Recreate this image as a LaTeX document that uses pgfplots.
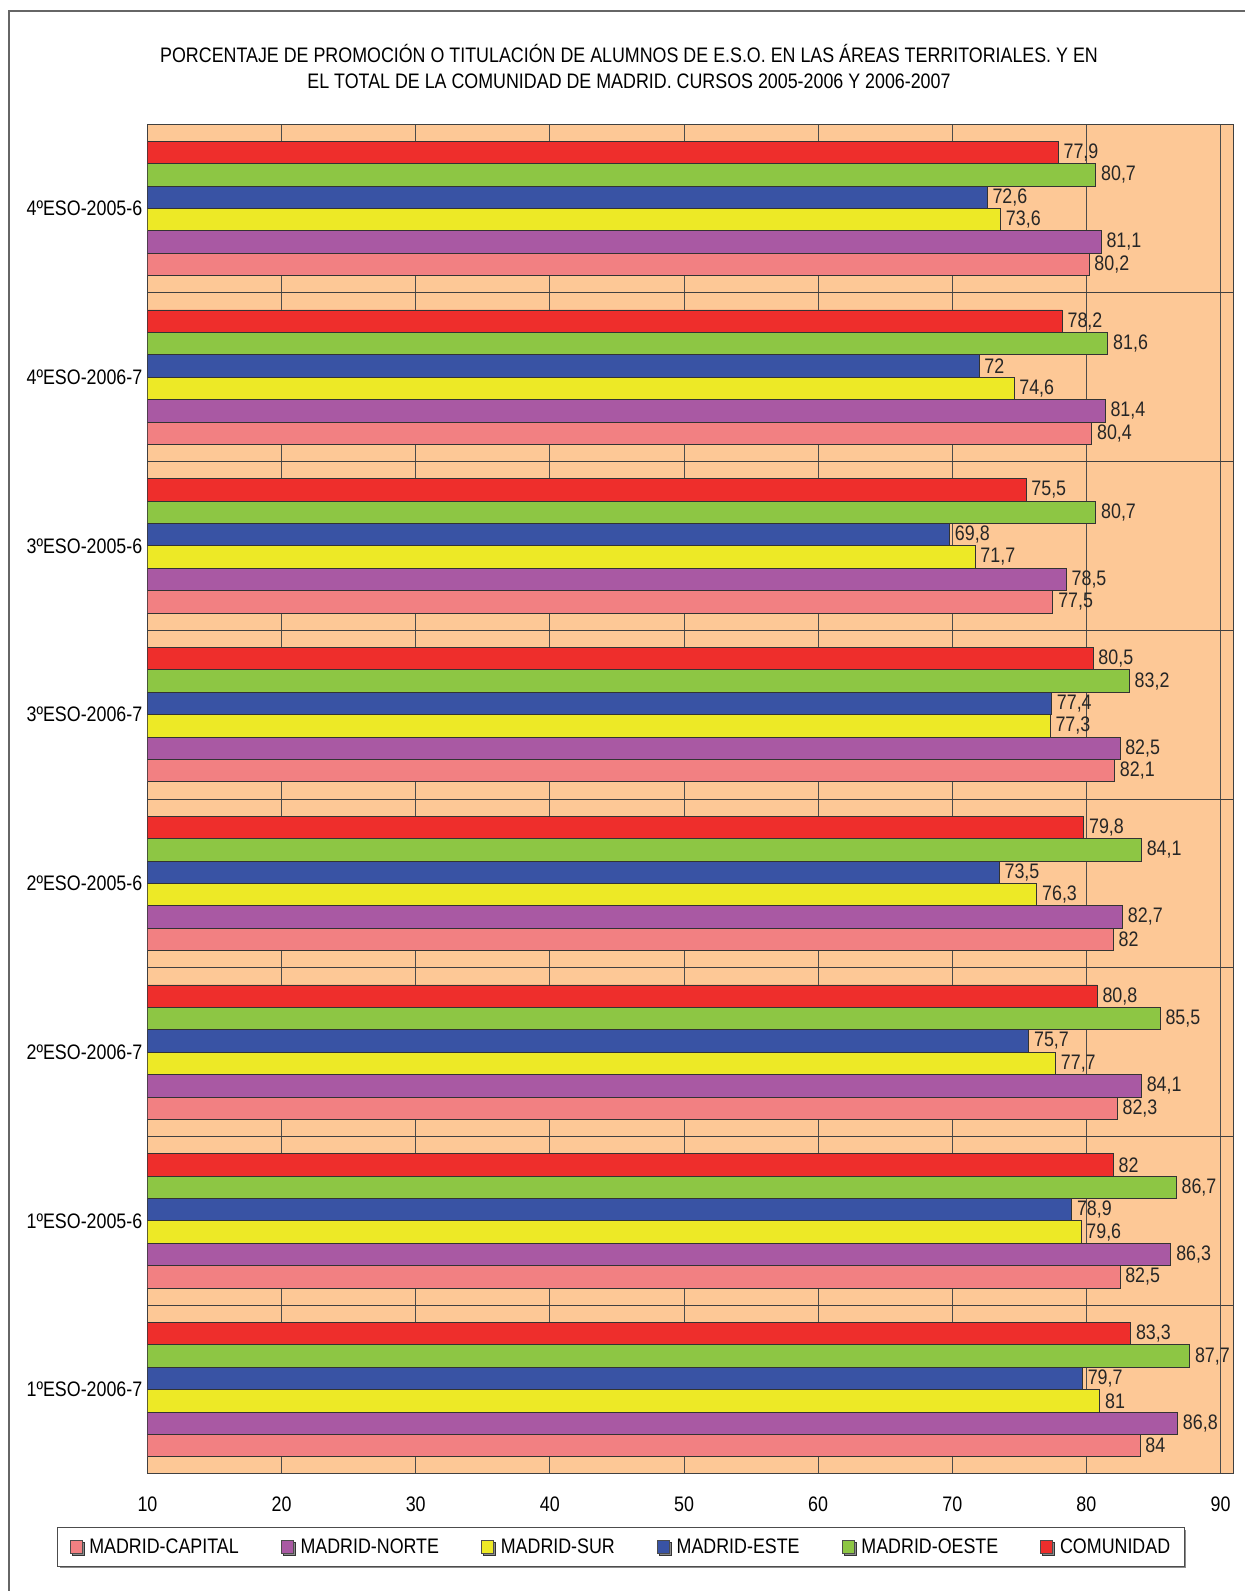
\documentclass[border=0pt]{standalone}
\usepackage{fontspec}
\setmainfont{Liberation Sans}[FakeStretch=0.85]
\usepackage{pgfplots}
\pgfplotsset{compat=1.18}
\usetikzlibrary{shadows}
\definecolor{peach}{RGB}{253,200,150}
\definecolor{cred}{RGB}{238,46,44}
\definecolor{cgreen}{RGB}{141,198,68}
\definecolor{cblue}{RGB}{57,83,164}
\definecolor{cyellow}{RGB}{237,233,38}
\definecolor{cpurple}{RGB}{169,89,163}
\definecolor{cpink}{RGB}{242,128,130}
\newcommand{\fs}{\fontsize{21}{25}\selectfont}
\begin{document}
\begin{tikzpicture}[x=1pt,y=1pt]
\path[use as bounding box] (0,0) rectangle (1245,-1591);
\fill[white] (0,0) rectangle (1245,-1591);
\draw[black!60, line width=1.5pt] (9,-1591) -- (9,-11) -- (1245,-11);
\node[font=\fs] at (629,-53.5) {PORCENTAJE DE PROMOCIÓN O TITULACIÓN DE ALUMNOS DE E.S.O. EN LAS ÁREAS TERRITORIALES. Y EN};
\node[font=\fs] at (629,-81.5) {EL TOTAL DE LA COMUNIDAD DE MADRID. CURSOS 2005-2006 Y 2006-2007};
\begin{axis}[
  at={(147.5pt,-124pt)}, anchor=north west,
  scale only axis, width=1086.5pt, height=1350pt,
  font=\fs,
  /pgf/number format/assume math mode=true,
  /pgf/number format/use comma,
  xbar=0pt, bar width=22.4pt,
  xmin=10, xmax=91, ymin=-0.5, ymax=7.5,
  xtick={10,20,...,90},
  ytick={0,...,7},
  yticklabels={1ºESO-2006-7,1ºESO-2005-6,2ºESO-2006-7,2ºESO-2005-6,3ºESO-2006-7,3ºESO-2005-6,4ºESO-2006-7,4ºESO-2005-6},
  minor ytick={0.5,1.5,...,6.5},
  major tick length=0pt, minor tick length=0pt,
  xmajorgrids, yminorgrids,
  major grid style={draw=black!70, line width=1pt},
  minor grid style={draw=black!75, line width=1pt},
  axis line style={draw=black!75, line width=1pt},
  axis background/.style={fill=peach},
  xticklabel style={yshift=-19pt},
  yticklabel style={inner sep=5pt},
  point meta=x,
  nodes near coords,
  nodes near coords align={horizontal},
  every node near coord/.append style={font=\fs, inner sep=5pt, black!85},
  every axis plot/.append style={draw=black!80, line width=0.8pt},
  every axis plot post/.append style={legend image code/.code={\draw[##1, line width=0.8pt, draw=black!70] (0pt,-6.5pt) rectangle (12pt,6.5pt);}},
  legend columns=6,
  legend cell align=left,
  legend style={at={(0.4357,-0.0541)}, anchor=center, font=\fs, draw=black!70, line width=1pt,
     inner xsep=12pt, inner ysep=9pt,
     drop shadow={shadow xshift=2pt, shadow yshift=-2pt, fill=black!45, opacity=1},
     /tikz/every even column/.append style={column sep=40pt},
     /tikz/every odd column/.append style={column sep=5pt}},
]
\addplot[fill=cpink] coordinates {(84,0) (82.5,1) (82.3,2) (82,3) (82.1,4) (77.5,5) (80.4,6) (80.2,7)};
\addlegendentry{MADRID-CAPITAL}
\addplot[fill=cpurple] coordinates {(86.8,0) (86.3,1) (84.1,2) (82.7,3) (82.5,4) (78.5,5) (81.4,6) (81.1,7)};
\addlegendentry{MADRID-NORTE}
\addplot[fill=cyellow] coordinates {(81,0) (79.6,1) (77.7,2) (76.3,3) (77.3,4) (71.7,5) (74.6,6) (73.6,7)};
\addlegendentry{MADRID-SUR}
\addplot[fill=cblue] coordinates {(79.7,0) (78.9,1) (75.7,2) (73.5,3) (77.4,4) (69.8,5) (72,6) (72.6,7)};
\addlegendentry{MADRID-ESTE}
\addplot[fill=cgreen] coordinates {(87.7,0) (86.7,1) (85.5,2) (84.1,3) (83.2,4) (80.7,5) (81.6,6) (80.7,7)};
\addlegendentry{MADRID-OESTE}
\addplot[fill=cred] coordinates {(83.3,0) (82,1) (80.8,2) (79.8,3) (80.5,4) (75.5,5) (78.2,6) (77.9,7)};
\addlegendentry{COMUNIDAD}
\end{axis}
\end{tikzpicture}
\end{document}
